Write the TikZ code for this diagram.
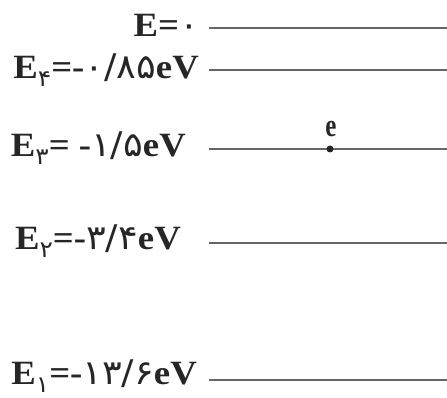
\documentclass[tikz,border=0pt]{standalone}
\usepackage{fontspec}
\setmainfont{Liberation Serif}
\newfontfamily\pd{DejaVu Sans}
\newcommand\lvsub[1]{\raisebox{-0.55ex}{\fontsize{23}{23}\selectfont\mdseries\pd #1}}
\newcommand\pn[1]{{\mdseries\pd #1}}
\begin{document}
\begin{tikzpicture}[x=1pt,y=-1pt,
  lvl/.style={line width=2.3pt, draw=black!60},
  lab/.style={anchor=east, inner sep=0pt, text=black!85, xscale=1.08, font=\bfseries\fontsize{34}{36}\selectfont}]
\useasboundingbox (0,0) rectangle (447,398);
% labels
\node[lab] (l0) at (199,25) {E=\pn{۰}};
\node[lab] (l4) at (199,70) {E\lvsub{۴}=-\pn{۰/۸۵}eV};
\node[lab] (l3) at (186,148) {E\lvsub{۳}= -\pn{۱/۵}eV};
\node[lab] (l2) at (181,241) {E\lvsub{۲}=-\pn{۳/۴}eV};
\node[lab] (l1) at (197,376) {E\lvsub{۱}=-\pn{۱۳/۶}eV};
% level lines
\coordinate (s0) at (209,28);  \coordinate (t0) at (447,28);
\coordinate (s4) at (209,70);  \coordinate (t4) at (447,70);
\coordinate (s3) at (209,149); \coordinate (t3) at (447,149);
\coordinate (s2) at (209,243); \coordinate (t2) at (447,243);
\coordinate (s1) at (209,380); \coordinate (t1) at (447,380);
\foreach \i in {0,4,3,2,1} \draw[lvl] (s\i) -- (t\i);
% electron
\node[circle, fill=black!85, inner sep=0pt, minimum size=7pt] (dot) at (330,149) {};
\node[inner sep=0pt, text=black!85, font=\bfseries\fontsize{25}{27}\selectfont, yscale=1.3] (e) at (331,129) {e};
\end{tikzpicture}
\end{document}
